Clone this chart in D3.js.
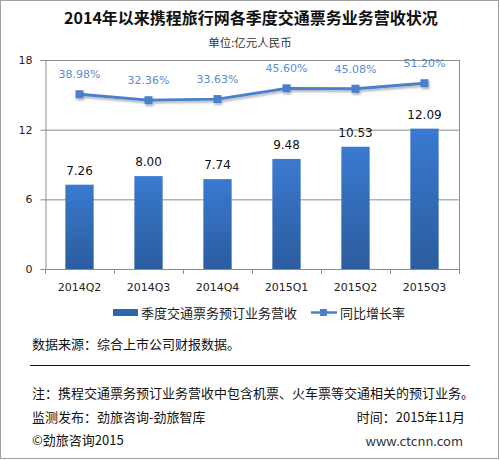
<!DOCTYPE html>
<html>
<head>
<meta charset="utf-8">
<script src="https://cdn.jsdelivr.net/npm/d3@7"></script>
<style>
  body { margin: 0; background: #fff; }
  text { font-family: "Microsoft YaHei", "Noto Sans CJK SC", sans-serif; }
</style>
</head>
<body>
<div id="chart"></div>
<script>
// data
var quarters = ["2014Q2", "2014Q3", "2014Q4", "2015Q1", "2015Q2", "2015Q3"];
var revenue = [7.26, 8.00, 7.74, 9.48, 10.53, 12.09];
var growth = [38.98, 32.36, 33.63, 45.60, 45.08, 51.20];
var yTicks = [0, 6, 12, 18];
var barName = "季度交通票务预订业务营收";
var lineName = "同比增长率";

var W = 500, H = 460;
var plotLeft = 45, plotRight = 459, plotTop = 60, plotBottom = 269;

var svg = d3.select("#chart").append("svg")
  .attr("width", W).attr("height", H);

var defs = svg.append("defs");
var grad = defs.append("linearGradient").attr("id", "barGrad")
  .attr("x1", 0).attr("y1", 0).attr("x2", 0).attr("y2", 1);
grad.append("stop").attr("offset", "0%").attr("stop-color", "#3a7ad0");
grad.append("stop").attr("offset", "100%").attr("stop-color", "#2b5c9e");

var shadow = defs.append("filter").attr("id", "shadow")
  .attr("x", "-10%").attr("y", "-50%").attr("width", "120%").attr("height", "200%");
shadow.append("feDropShadow").attr("dx", 1).attr("dy", 2).attr("stdDeviation", 1.2)
  .attr("flood-color", "#000").attr("flood-opacity", 0.3);

// outer frame
svg.append("rect").attr("x", 0.5).attr("y", 0.5).attr("width", W - 2).attr("height", H - 2)
  .attr("fill", "none").attr("stroke", "#a0a0a0");

// title
svg.append("text").attr("x", 251).attr("y", 24).attr("text-anchor", "middle")
  .attr("font-size", 16).attr("font-weight", "bold").attr("fill", "#111")
  .text("2014年以来携程旅行网各季度交通票务业务营收状况");
svg.append("text").attr("x", 250).attr("y", 47).attr("text-anchor", "middle")
  .attr("font-size", 11.5).attr("fill", "#333")
  .text("单位:亿元人民币");

var x = d3.scaleBand().domain(quarters).range([plotLeft, plotRight]).paddingInner(0.59).paddingOuter(0.295);
var xb = d3.scaleBand().domain(quarters).range([plotLeft, plotRight]);
var y = d3.scaleLinear().domain([0, 18]).range([plotBottom, plotTop]);
// secondary axis is hidden in the original
var y2 = d3.scaleLinear().domain([-155, 77]).range([plotBottom, plotTop]);

// grid lines
svg.append("g").selectAll("line").data(yTicks.slice(1)).enter().append("line")
  .attr("x1", plotLeft).attr("x2", plotRight)
  .attr("y1", function(d){ return y(d) + 0.5; }).attr("y2", function(d){ return y(d) + 0.5; })
  .attr("stroke", "#8c8c8c").attr("stroke-width", 1);
// right border of plot area
svg.append("line").attr("x1", plotRight + 0.5).attr("x2", plotRight + 0.5).attr("y1", plotTop).attr("y2", plotBottom)
  .attr("stroke", "#8c8c8c");

// bars
svg.append("g").selectAll("rect").data(revenue).enter().append("rect")
  .attr("x", function(d, i){ return x(quarters[i]); })
  .attr("width", x.bandwidth())
  .attr("y", function(d){ return y(d); })
  .attr("height", function(d){ return plotBottom - y(d); })
  .attr("fill", "url(#barGrad)");

svg.append("g").selectAll("text").data(revenue).enter().append("text")
  .attr("x", function(d, i){ return x(quarters[i]) + x.bandwidth() / 2; })
  .attr("y", function(d){ return y(d) - 10; })
  .attr("text-anchor", "middle").attr("font-size", 12).attr("fill", "#111")
  .style("font-family", "Verdana, 'DejaVu Sans', sans-serif")
  .text(function(d){ return d.toFixed(2); });

// axes
var yAxis = svg.append("g").attr("transform", "translate(" + (plotLeft + 0.5) + ",0)")
  .call(d3.axisLeft(y).tickValues(yTicks).tickSize(5).tickPadding(8));
yAxis.select(".domain").attr("stroke", "#8c8c8c");
yAxis.selectAll(".tick line").attr("stroke", "#8c8c8c");
yAxis.selectAll("text").attr("font-size", 11).attr("fill", "#222")
  .style("font-family", "Verdana, 'DejaVu Sans', sans-serif");

var bounds = quarters.map(function(q){ return xb(q); }).concat([plotRight]);
var xAxis = svg.append("g");
xAxis.append("line").attr("x1", plotLeft).attr("x2", plotRight)
  .attr("y1", plotBottom + 0.5).attr("y2", plotBottom + 0.5).attr("stroke", "#8c8c8c");
xAxis.selectAll("line.tk").data(bounds).enter().append("line").attr("class", "tk")
  .attr("x1", function(d){ return Math.round(d) + 0.5; }).attr("x2", function(d){ return Math.round(d) + 0.5; })
  .attr("y1", plotBottom).attr("y2", plotBottom + 5).attr("stroke", "#8c8c8c");
xAxis.selectAll("text").data(quarters).enter().append("text")
  .attr("x", function(d){ return xb(d) + xb.bandwidth() / 2; })
  .attr("y", plotBottom + 22).attr("text-anchor", "middle")
  .attr("font-size", 11).attr("fill", "#222")
  .style("font-family", "Verdana, 'DejaVu Sans', sans-serif")
  .text(function(d){ return d; });

// growth line
var line = d3.line()
  .x(function(d, i){ return xb(quarters[i]) + xb.bandwidth() / 2; })
  .y(function(d){ return y2(d); });
var lineG = svg.append("g").attr("filter", "url(#shadow)");
lineG.append("path").datum(growth).attr("d", line)
  .attr("fill", "none").attr("stroke", "#4a7fcb").attr("stroke-width", 2.8);
lineG.selectAll("rect").data(growth).enter().append("rect")
  .attr("x", function(d, i){ return xb(quarters[i]) + xb.bandwidth() / 2 - 4; })
  .attr("y", function(d){ return y2(d) - 4; })
  .attr("width", 8).attr("height", 8).attr("fill", "#4a7fcb");

svg.append("g").selectAll("text").data(growth).enter().append("text")
  .attr("x", function(d, i){ return xb(quarters[i]) + xb.bandwidth() / 2; })
  .attr("y", function(d){ return y2(d) - 16; })
  .attr("text-anchor", "middle").attr("font-size", 11).attr("fill", "#5a8ccf")
  .style("font-family", "Verdana, 'DejaVu Sans', sans-serif")
  .text(function(d){ return d.toFixed(2) + "%"; });

// legend
var lg = svg.append("g");
lg.append("rect").attr("x", 113).attr("y", 309).attr("width", 25).attr("height", 7).attr("fill", "#2f65aa");
lg.append("text").attr("x", 141).attr("y", 317.5).attr("font-size", 13).attr("fill", "#222").text(barName);
lg.append("line").attr("x1", 311).attr("x2", 337).attr("y1", 312.5).attr("y2", 312.5)
  .attr("stroke", "#4a7fcb").attr("stroke-width", 2.5);
lg.append("rect").attr("x", 320).attr("y", 309).attr("width", 7).attr("height", 7).attr("fill", "#4a7fcb");
lg.append("text").attr("x", 340).attr("y", 317.5).attr("font-size", 13).attr("fill", "#222").text(lineName);

// footer notes
var notes = svg.append("g").attr("font-size", 13).attr("fill", "#111");
notes.append("text").attr("x", 32).attr("y", 349).text("数据来源：综合上市公司财报数据。");
svg.append("line").attr("x1", 30).attr("x2", 470).attr("y1", 365.5).attr("y2", 365.5)
  .attr("stroke", "#111").attr("stroke-width", 1);
notes.append("text").attr("x", 32).attr("y", 398).text("注：携程交通票务预订业务营收中包含机票、火车票等交通相关的预订业务。");
notes.append("text").attr("x", 32).attr("y", 422).text("监测发布：劲旅咨询-劲旅智库");
notes.append("text").attr("x", 465).attr("y", 422).attr("text-anchor", "end").text("时间：2015年11月");
notes.append("text").attr("x", 32).attr("y", 445).text("©劲旅咨询2015");
notes.append("text").attr("x", 463).attr("y", 446).attr("text-anchor", "end").attr("fill", "#333").text("www.ctcnn.com");
</script>
</body>
</html>
